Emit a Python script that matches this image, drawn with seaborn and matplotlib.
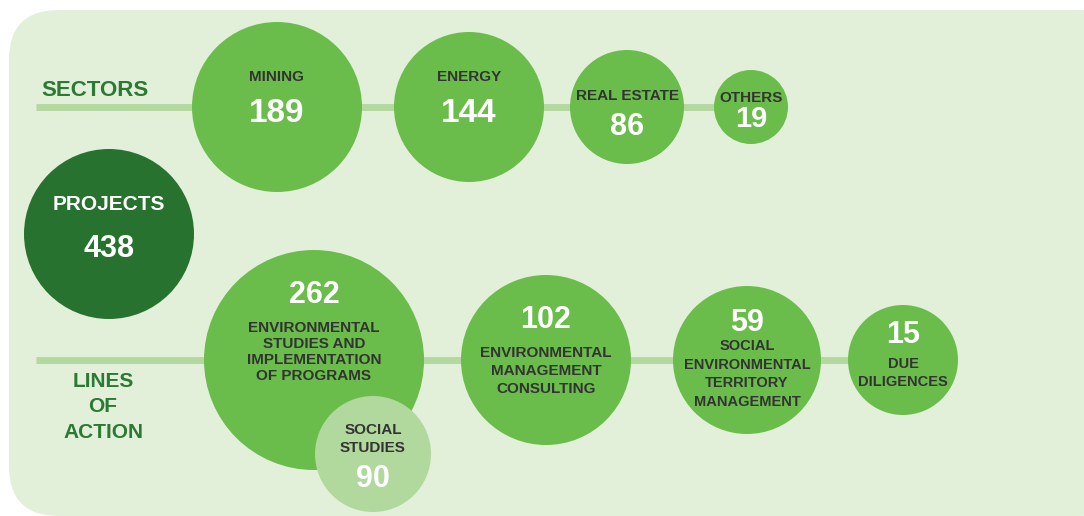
import matplotlib
matplotlib.use("Agg")
import matplotlib.pyplot as plt
from matplotlib.patches import FancyBboxPatch
import pandas as pd
import seaborn as sns

# data
total_label = "PROJECTS"
total_value = 438
sector_labels = ["MINING", "ENERGY", "REAL ESTATE", "OTHERS"]
sector_values = [189, 144, 86, 19]
action_labels = ["ENVIRONMENTAL\nSTUDIES AND\nIMPLEMENTATION\nOF PROGRAMS",
                 "ENVIRONMENTAL\nMANAGEMENT\nCONSULTING",
                 "SOCIAL\nENVIRONMENTAL\nTERRITORY\nMANAGEMENT",
                 "DUE\nDILIGENCES"]
action_values = [262, 102, 59, 15]
sub_label = "SOCIAL\nSTUDIES"
sub_value = 90

# layout (pixels, figure is 1084x516 at dpi 100)
sector_x = [277, 469, 627, 751]
sector_r = [85, 75, 57, 37]
sector_y = 107
action_x = [314, 546, 747, 903]
action_r = [110, 85, 74, 55]
action_y = 360
total_xy, total_r = (109, 234), 85
sub_xy, sub_r = (373, 454), 58

BG = "#e2efd9"
LINE = "#b3d9a0"
MID = "#6abd4b"
DARK = "#27722e"
LIGHT = "#b1d89d"
TXT = "#333333"
HEAD = "#2b7a33"

sns.set_style("white")
plt.rcParams["font.family"] = ["Liberation Sans", "DejaVu Sans"]

fig = plt.figure(figsize=(10.84, 5.16), dpi=100)
ax = fig.add_axes([0, 0, 1, 1])
ax.set_xlim(0, 1084)
ax.set_ylim(516, 0)
ax.axis("off")

panel = FancyBboxPatch((9, 10), 1120, 506, boxstyle="round,pad=0,rounding_size=50",
                       fc=BG, ec="none", zorder=0)
ax.add_patch(panel)

# connecting lines
ax.plot([36, sector_x[-1]], [sector_y, sector_y], color=LINE, lw=5, solid_capstyle="butt", zorder=1)
ax.plot([36, action_x[-1]], [action_y, action_y], color=LINE, lw=5, solid_capstyle="butt", zorder=1)

# circles
rows = [dict(x=total_xy[0], y=total_xy[1], r=total_r, kind="total")]
rows += [dict(x=x, y=sector_y, r=r, kind="item") for x, r in zip(sector_x, sector_r)]
rows += [dict(x=x, y=action_y, r=r, kind="item") for x, r in zip(action_x, action_r)]
rows += [dict(x=sub_xy[0], y=sub_xy[1], r=sub_r, kind="sub")]
df = pd.DataFrame(rows)
sizes = (2 * df["r"] * 72 / 100) ** 2

sns.scatterplot(data=df, x="x", y="y", hue="kind", s=sizes.values,
                palette={"total": DARK, "item": MID, "sub": LIGHT},
                linewidth=0, legend=False, ax=ax, zorder=2)

# headings
ax.text(41, 90, "SECTORS", color=HEAD, fontsize=16, fontweight="bold", va="center", ha="left")
ax.text(103, 407, "LINES\nOF\nACTION", color=HEAD, fontsize=15, fontweight="bold",
        va="center", ha="center", linespacing=1.45)

# total
ax.text(total_xy[0], 204, total_label, color="white", fontsize=15, fontweight="bold", ha="center", va="center")
ax.text(total_xy[0], 249, str(total_value), color="white", fontsize=22, fontweight="bold", ha="center", va="center")

# sectors
lab_y = [77, 77, 96, 98]
val_y = [113, 113, 127, 119]
val_fs = [24, 24, 22, 21]
for x, lab, val, ly, vy, fs in zip(sector_x, sector_labels, sector_values, lab_y, val_y, val_fs):
    ax.text(x, ly, lab, color=TXT, fontsize=11, fontweight="bold", ha="center", va="center")
    ax.text(x, vy, str(val), color="white", fontsize=fs, fontweight="bold", ha="center", va="center")

# lines of action
val_y = [295, 320, 323, 335]
lab_y = [352, 371, 374, 373]
lab_fs = [11, 11, 10.5, 10.5]
lab_ls = [1.2, 1.35, 1.4, 1.4]
for x, lab, val, ly, vy, fs, ls in zip(action_x, action_labels, action_values, lab_y, val_y, lab_fs, lab_ls):
    ax.text(x, vy, str(val), color="white", fontsize=22, fontweight="bold", ha="center", va="center")
    ax.text(x, ly, lab, color=TXT, fontsize=fs, fontweight="bold", ha="center", va="center",
            linespacing=ls)

# sub circle
ax.text(sub_xy[0], 439, sub_label, color=TXT, fontsize=11, fontweight="bold", ha="center", va="center",
        linespacing=1.35)
ax.text(sub_xy[0], 479, str(sub_value), color="white", fontsize=22, fontweight="bold", ha="center", va="center")

fig.savefig("out.png", dpi=100, facecolor="white")
